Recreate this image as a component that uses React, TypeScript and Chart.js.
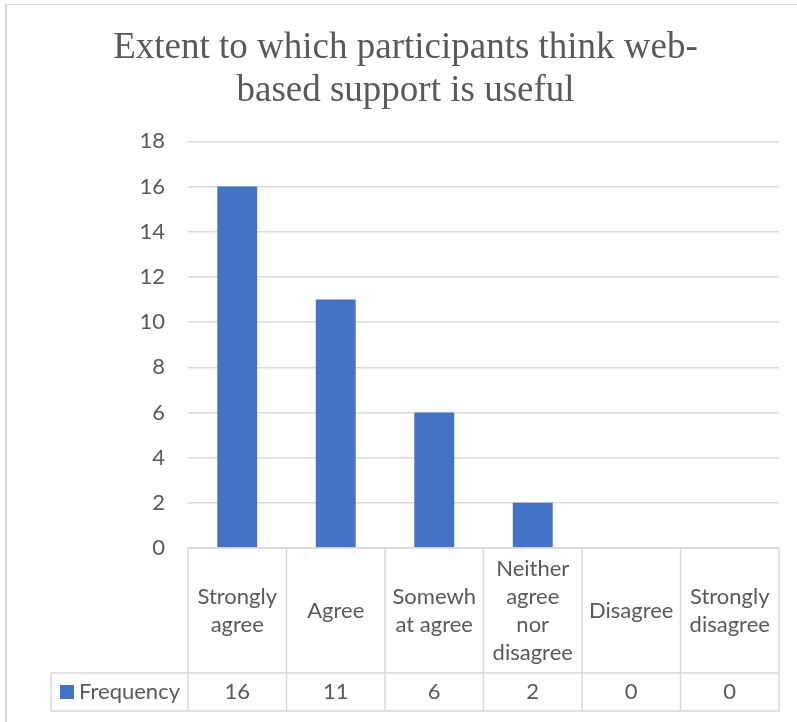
import React, { useEffect, useRef } from "react";
import { Chart, registerables } from "chart.js";

Chart.register(...registerables);

const titleLines = ["Extent to which participants think web-", "based support is useful"];
const categoryLines: string[][] = [
  ["Strongly", "agree"],
  ["Agree"],
  ["Somewh", "at agree"],
  ["Neither", "agree", "nor", "disagree"],
  ["Disagree"],
  ["Strongly", "disagree"],
];
const categories = categoryLines.map((l) => l.join(" "));
const seriesName = "Frequency";
const frequency = [16, 11, 6, 2, 0, 0];
const yTicks = { min: 0, max: 18, step: 2 };

const BLUE = "#4472C4";
const GRID = "#d9d9d9";
const TEXT = "#595959";
const SANS = "Lato, 'Noto Sans', sans-serif";
const FS = 22;

const tablePlugin = {
  id: "dataTable",
  afterDraw(chart: any) {
    const { ctx, chartArea } = chart;
    const x = chart.scales.x;
    const n = categories.length;
    const colW = (chartArea.right - chartArea.left) / n;
    const top = chartArea.bottom;
    const rowSep = top + 125;
    const bottom = rowSep + 38;
    const legendLeft = 51;
    ctx.save();
    // outer border
    ctx.strokeStyle = GRID;
    ctx.lineWidth = 2;
    ctx.beginPath();
    ctx.moveTo(6, 4);
    ctx.lineTo(6, chart.height);
    ctx.stroke();
    ctx.lineWidth = 1;
    ctx.beginPath();
    ctx.moveTo(5, 4.5);
    ctx.lineTo(chart.width, 4.5);
    ctx.stroke();

    // table lines
    ctx.lineWidth = 1.5;
    ctx.beginPath();
    ctx.moveTo(chartArea.left, top);
    ctx.lineTo(chartArea.right, top);
    ctx.moveTo(legendLeft, rowSep);
    ctx.lineTo(chartArea.right, rowSep);
    ctx.moveTo(legendLeft, bottom);
    ctx.lineTo(chartArea.right, bottom);
    for (let i = 0; i <= n; i++) {
      const xx = chartArea.left + i * colW;
      ctx.moveTo(xx, top);
      ctx.lineTo(xx, bottom);
    }
    ctx.moveTo(legendLeft, rowSep);
    ctx.lineTo(legendLeft, bottom);
    ctx.stroke();

    // category labels
    ctx.fillStyle = TEXT;
    ctx.font = `${FS}px ${SANS}`;
    ctx.textAlign = "center";
    ctx.textBaseline = "middle";
    const lh = 28;
    const midCat = (top + rowSep) / 2;
    categoryLines.forEach((lines, i) => {
      const cx = x.getPixelForValue(i);
      const y0 = midCat - ((lines.length - 1) * lh) / 2;
      lines.forEach((t, j) => ctx.fillText(t, cx, y0 + j * lh));
    });
    // values row
    const midVal = (rowSep + bottom) / 2;
    frequency.forEach((v, i) => {
      ctx.fillText(String(v), x.getPixelForValue(i), midVal);
    });
    // legend key
    ctx.fillStyle = BLUE;
    ctx.fillRect(60, midVal - 7, 14, 14);
    ctx.fillStyle = TEXT;
    ctx.textAlign = "left";
    ctx.fillText(seriesName, 79, midVal);
    ctx.restore();
  },
};

export default function App() {
  const ref = useRef<HTMLCanvasElement>(null);
  useEffect(() => {
    document.body.style.margin = "0";
    const chart = new Chart(ref.current!, {
      type: "bar",
      data: {
        labels: categories,
        datasets: [
          {
            label: seriesName,
            data: frequency,
            backgroundColor: BLUE,
            borderWidth: 0,
            categoryPercentage: 1,
            barPercentage: 0.405,
          },
        ],
      },
      options: {
        animation: false,
        responsive: false,
        layout: { padding: { left: 32, right: 18, top: 0, bottom: 174 } },
        plugins: {
          legend: { display: false },
          tooltip: { enabled: false },
          title: {
            display: true,
            text: titleLines,
            color: TEXT,
            font: { family: "'Liberation Serif', 'Times New Roman', serif", size: 37, weight: "normal", lineHeight: 1.18 },
            padding: { top: 26, bottom: 28 },
          },
        },
        scales: {
          x: { display: false },
          y: {
            min: yTicks.min,
            max: yTicks.max,
            border: { display: false },
            grid: { color: GRID, lineWidth: 1.5, drawTicks: false },
            ticks: {
              stepSize: yTicks.step,
              color: TEXT,
              font: { family: SANS, size: FS },
              padding: 23,
            },
            afterFit(scale: any) {
              scale.width = 156;
            },
          },
        },
      },
      plugins: [tablePlugin],
    });
    return () => chart.destroy();
  }, []);
  return <canvas ref={ref} width={797} height={722} style={{ display: "block" }} />;
}
